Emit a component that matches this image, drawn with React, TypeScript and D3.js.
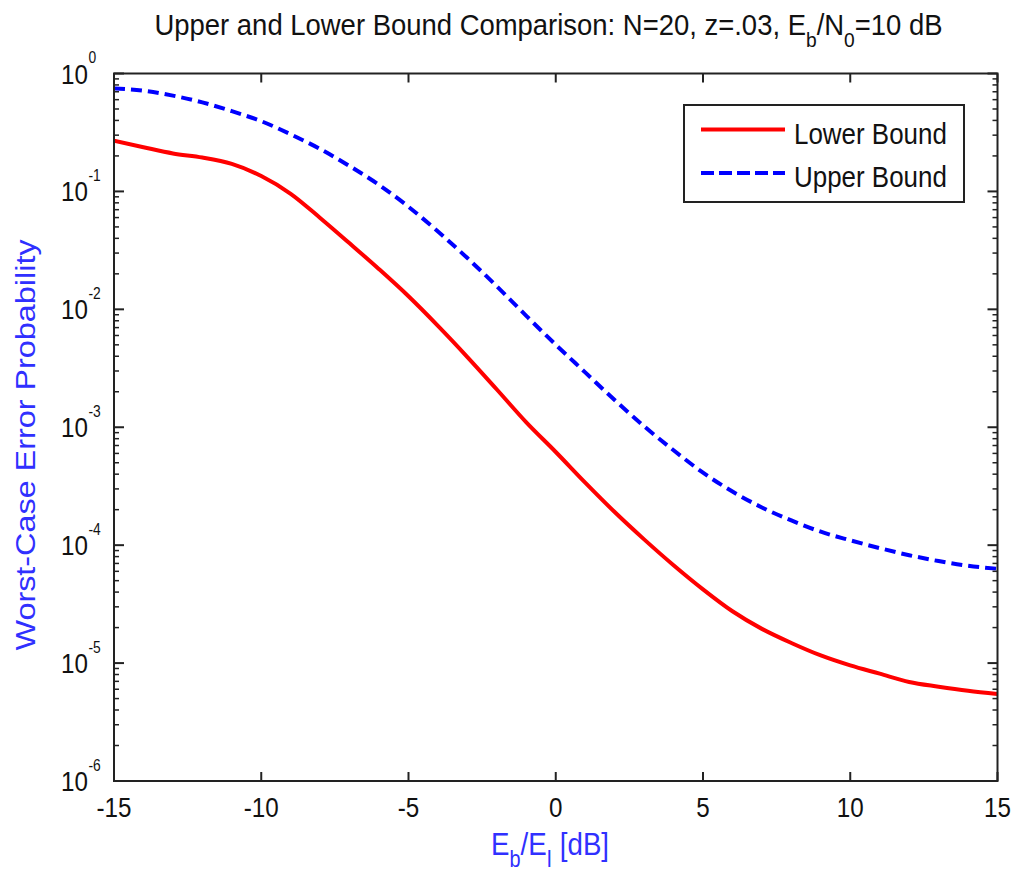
import React from "react";
import * as d3 from "d3";

const xValues = [-15,-14,-13,-12,-11,-10,-9,-8,-7,-6,-5,-4,-3,-2,-1,0,1,2,3,4,5,6,7,8,9,10,11,12,13,14,15];
const lowerBound = [0.269,0.237,0.21,0.194,0.171,0.135,0.0955,0.0596,0.0363,0.0219,0.0129,0.00724,0.00394,0.00209,0.0011,0.000617,3.39e-4,1.91e-4,1.12e-4,6.76e-5,4.22e-5,2.75e-5,1.95e-5,1.48e-5,1.16e-5,9.55e-6,8.13e-6,6.92e-6,6.31e-6,5.82e-6,5.46e-6];
const upperBound = [0.748,0.715,0.649,0.569,0.479,0.394,0.305,0.229,0.164,0.1135,0.0741,0.0457,0.0272,0.01567,0.00881,0.00501,0.00292,0.0017,0.00102,6.38e-4,4.12e-4,2.85e-4,2.09e-4,1.62e-4,1.3e-4,1.1e-4,9.44e-5,8.22e-5,7.33e-5,6.68e-5,6.31e-5];
const xTicks = [-15,-10,-5,0,5,10,15];
const yExponents = [0,-1,-2,-3,-4,-5,-6];
const seriesNames = ["Lower Bound", "Upper Bound"];

const W = 1017, H = 873;
const L = 114, R = 997.5, T = 73.5, B = 781;
const SX = 0.865;
const FONT = "Arial, 'Liberation Sans', Helvetica, sans-serif";
const LABEL_BLUE = "#3030ff";

export default function App() {
  const x = d3.scaleLinear().domain([-15, 15]).range([L, R]);
  const y = d3.scaleLog().domain([1e-6, 1]).range([B, T]);
  const line = d3.line<number>()
    .x((_, i) => x(xValues[i]))
    .y((d) => y(d))
    .curve(d3.curveMonotoneX);

  const minorTicks: number[] = [];
  for (let e = -6; e < 0; e++) {
    for (let k = 2; k <= 9; k++) minorTicks.push(k * Math.pow(10, e));
  }

  const hText = (tx: number, ty: number, content: React.ReactNode, size: number, anchor: string, fill = "#111", key?: any) => (
    <g key={key} transform={`translate(${tx},${ty}) scale(${SX},1)`}>
      <text x={0} y={0} fontSize={size} textAnchor={anchor} fill={fill} fontFamily={FONT}>{content}</text>
    </g>
  );

  return (
    <svg width={W} height={H} style={{ position: "absolute", left: 0, top: 0, background: "#fff" }}>
      <rect x={0} y={0} width={W} height={H} fill="#fff" />
      <defs>
        <clipPath id="plotclip"><rect x={L} y={T} width={R - L} height={B - T} /></clipPath>
      </defs>
      <g clipPath="url(#plotclip)">
        <path d={line(lowerBound) || ""} fill="none" stroke="#ff0000" strokeWidth={4} strokeLinejoin="round" />
        <path d={line(upperBound) || ""} fill="none" stroke="#0000ff" strokeWidth={4} strokeDasharray="11,6" />
      </g>
      <rect x={L} y={T} width={R - L} height={B - T} fill="none" stroke="#222" strokeWidth={2} />
      {xTicks.map((t) => (
        <g key={"xt" + t}>
          <line x1={x(t)} x2={x(t)} y1={B} y2={B - 9} stroke="#222" strokeWidth={2} />
          <line x1={x(t)} x2={x(t)} y1={T} y2={T + 9} stroke="#222" strokeWidth={2} />
          {hText(x(t), 817, String(t), 28, "middle", "#111")}
        </g>
      ))}
      {yExponents.map((e) => {
        const yy = y(Math.pow(10, e));
        return (
          <g key={"yt" + e}>
            <line x1={L} x2={L + 10} y1={yy} y2={yy} stroke="#222" strokeWidth={2} />
            <line x1={R} x2={R - 10} y1={yy} y2={yy} stroke="#222" strokeWidth={2} />
            {hText(88, yy + 10, "10", 28, "end", "#111")}
            {hText(88.5, yy - 10.5, String(e), 16, "start", "#111")}
          </g>
        );
      })}
      {minorTicks.map((v, i) => (
        <g key={"mt" + i}>
          <line x1={L} x2={L + 5} y1={y(v)} y2={y(v)} stroke="#222" strokeWidth={1.5} />
          <line x1={R} x2={R - 5} y1={y(v)} y2={y(v)} stroke="#222" strokeWidth={1.5} />
        </g>
      ))}
      <g transform={`translate(548.5,35) scale(0.915,1)`}>
        <text x={0} y={0} fontSize={30} textAnchor="middle" fill="#111" fontFamily={FONT}>
          Upper and Lower Bound Comparison: N=20, z=.03, E
          <tspan fontSize={21} dy={12}>b</tspan>
          <tspan dy={-12}>/N</tspan>
          <tspan fontSize={21} dy={12}>0</tspan>
          <tspan dy={-12}>=10 dB</tspan>
        </text>
      </g>
      <g transform={`translate(550,855) scale(${SX},1)`}>
        <text x={0} y={0} fontSize={32} textAnchor="middle" fill={LABEL_BLUE} fontFamily={FONT}>
          E<tspan fontSize={23} dy={12}>b</tspan><tspan dy={-12}>/E</tspan><tspan fontSize={23} dy={12}>I</tspan><tspan dy={-12}> [dB]</tspan>
        </text>
      </g>
      <g transform={`translate(35,445) rotate(-90) scale(${1 / SX},1)`}>
        <text x={0} y={0} fontSize={28} textAnchor="middle" fill={LABEL_BLUE} fontFamily={FONT}>
          Worst-Case Error Probability
        </text>
      </g>
      <rect x={684} y={105} width={280} height={97} fill="#fff" stroke="#222" strokeWidth={2} />
      <line x1={701} x2={785} y1={129.5} y2={129.5} stroke="#ff0000" strokeWidth={4} />
      <line x1={701} x2={785} y1={173} y2={173} stroke="#0000ff" strokeWidth={4} strokeDasharray="13,5" />
      {hText(794, 143.5, seriesNames[0], 30, "start", "#111")}
      {hText(794, 187, seriesNames[1], 30, "start", "#111")}
    </svg>
  );
}
